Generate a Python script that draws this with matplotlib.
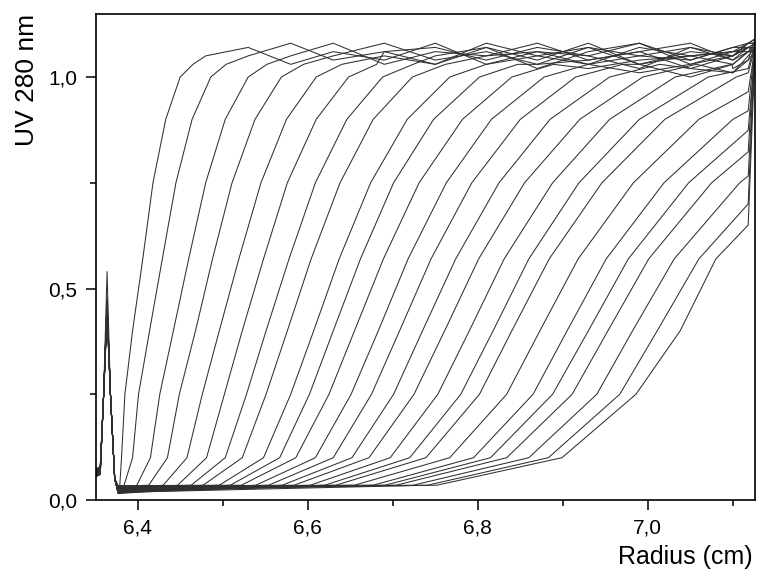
import numpy as np
import matplotlib
matplotlib.use('Agg')
import matplotlib.pyplot as plt

plt.rcParams['font.family'] = ['Liberation Sans', 'DejaVu Sans']

levels = [0.035, 0.10, 0.25, 0.40, 0.57, 0.75, 0.90, 1.00, 1.03]

# radius (cm) where each scan crosses the levels above
scans = [
    [6.379, 6.381, 6.385, 6.394, 6.406, 6.418, 6.433, 6.450, 6.465],
    [6.384, 6.394, 6.401, 6.414, 6.429, 6.445, 6.464, 6.486, 6.504],
    [6.399, 6.415, 6.426, 6.442, 6.460, 6.480, 6.503, 6.530, 6.552],
    [6.413, 6.435, 6.449, 6.468, 6.488, 6.511, 6.538, 6.569, 6.595],
    [6.430, 6.458, 6.476, 6.496, 6.519, 6.545, 6.575, 6.610, 6.640],
    [6.447, 6.481, 6.502, 6.523, 6.548, 6.576, 6.610, 6.648, 6.681],
    [6.463, 6.503, 6.528, 6.551, 6.578, 6.609, 6.646, 6.688, 6.724],
    [6.477, 6.523, 6.551, 6.576, 6.604, 6.638, 6.677, 6.723, 6.762],
    [6.496, 6.548, 6.580, 6.607, 6.637, 6.674, 6.717, 6.767, 6.810],
    [6.509, 6.567, 6.602, 6.630, 6.662, 6.701, 6.748, 6.802, 6.847],
    [6.522, 6.586, 6.625, 6.655, 6.689, 6.731, 6.782, 6.840, 6.889],
    [6.539, 6.609, 6.651, 6.683, 6.718, 6.763, 6.816, 6.878, 6.930],
    [6.554, 6.630, 6.675, 6.708, 6.745, 6.793, 6.850, 6.915, 6.970],
    [6.570, 6.652, 6.701, 6.735, 6.774, 6.825, 6.885, 6.955, 7.014],
    [6.584, 6.672, 6.725, 6.761, 6.801, 6.855, 6.920, 6.994, 7.057],
    [6.603, 6.697, 6.753, 6.790, 6.831, 6.888, 6.955, 7.032, 7.099],
    [6.620, 6.720, 6.780, 6.818, 6.860, 6.919, 6.990, 7.071],
    [6.633, 6.739, 6.802, 6.840, 6.884, 6.946, 7.020, 7.104],
    [6.655, 6.767, 6.834, 6.873, 6.918, 6.983, 7.060],
    [6.677, 6.795, 6.865, 6.905, 6.951, 7.019, 7.100],
    [6.691, 6.815, 6.888, 6.930, 6.977, 7.048],
    [6.704, 6.834, 6.911, 6.953, 7.001, 7.075],
    [6.724, 6.860, 6.940, 6.982, 7.031, 7.108],
    [6.741, 6.883, 6.967, 7.011, 7.060],
    [6.752, 6.899, 6.986, 7.038, 7.080],
]

# plateau readings (absorbance) of the finished scans on a common radius grid
plat_x = [6.48, 6.53, 6.58, 6.63, 6.69, 6.75, 6.81, 6.87, 6.93, 6.99, 7.05, 7.10, 7.118]
plat_y = [
    [1.05, 1.07, 1.03, 1.06, 1.04, 1.08, 1.03, 1.06, 1.05, 1.08, 1.04, 1.07, 1.07],
    [1.03, 1.05, 1.08, 1.04, 1.06, 1.03, 1.07, 1.04, 1.08, 1.03, 1.06, 1.05, 1.08],
    [1.06, 1.04, 1.05, 1.08, 1.03, 1.06, 1.05, 1.08, 1.04, 1.06, 1.08, 1.04, 1.06],
    [1.04, 1.03, 1.06, 1.05, 1.08, 1.04, 1.06, 1.03, 1.07, 1.05, 1.04, 1.07, 1.08],
    [1.05, 1.06, 1.02, 1.07, 1.05, 1.03, 1.08, 1.05, 1.03, 1.07, 1.05, 1.06, 1.07],
    [1.04, 1.05, 1.04, 1.03, 1.06, 1.07, 1.04, 1.07, 1.05, 1.02, 1.07, 1.05, 1.08],
    [1.05, 1.04, 1.06, 1.05, 1.03, 1.05, 1.07, 1.02, 1.06, 1.08, 1.03, 1.06, 1.06],
    [1.04, 1.05, 1.03, 1.04, 1.06, 1.02, 1.05, 1.06, 1.03, 1.05, 1.07, 1.04, 1.07],
    [1.05, 1.04, 1.05, 1.06, 1.04, 1.05, 1.03, 1.05, 1.07, 1.03, 1.05, 1.06, 1.08],
    [1.04, 1.04, 1.04, 1.03, 1.05, 1.04, 1.06, 1.03, 1.04, 1.06, 1.02, 1.05, 1.07],
    [1.03, 1.03, 1.03, 1.04, 1.03, 1.02, 1.04, 1.05, 1.02, 1.04, 1.05, 1.03, 1.06],
    [1.02, 1.02, 1.02, 1.02, 1.03, 1.04, 1.01, 1.03, 1.04, 1.01, 1.03, 1.05, 1.07],
    [1.01, 1.01, 1.01, 1.01, 1.01, 1.02, 1.03, 1.00, 1.02, 1.03, 1.00, 1.03, 1.06],
    [1.00, 1.00, 1.00, 1.00, 1.00, 1.00, 1.00, 1.01, 1.02, 1.00, 1.02, 1.01, 1.05],
    [1.00, 1.00, 1.00, 1.00, 1.00, 1.00, 1.00, 1.00, 1.00, 1.00, 1.00, 1.01, 1.04],
    [1.00, 1.00, 1.00, 1.00, 1.00, 1.00, 1.00, 1.00, 1.00, 1.00, 1.00, 1.02, 1.04],
]

# where the unfinished scans are when they reach the cell bottom
wall_foot = [1.02, 1.01, 0.965, 0.92, 0.874, 0.823, 0.766, 0.70, 0.65]
wall_top = [1.07, 1.08, 1.06, 1.09, 1.07, 1.08, 1.06, 1.07, 1.09, 1.08,
            1.07, 1.06, 1.08, 1.07, 1.09, 1.06, 1.08, 1.07, 1.07, 1.08,
            1.06, 1.09, 1.07, 1.08, 1.06]

# meniscus spike shared by all scans
men_x = [6.351, 6.356, 6.360, 6.364, 6.368, 6.373, 6.377]
men_y = [0.065, 0.070, 0.250, 0.460, 0.250, 0.050, 0.022]
men_left = [0.060, 0.068, 0.056, 0.072, 0.063, 0.058, 0.070, 0.066, 0.061, 0.074,
            0.057, 0.065, 0.069, 0.062, 0.059, 0.071, 0.064, 0.067, 0.055, 0.063,
            0.070, 0.060, 0.066, 0.058, 0.068]
peak_h = [0.54, 0.47, 0.46, 0.45, 0.48, 0.46, 0.44, 0.47, 0.46, 0.45,
          0.46, 0.47, 0.44, 0.46, 0.45, 0.47, 0.46, 0.45, 0.44, 0.46,
          0.47, 0.45, 0.46, 0.44, 0.46]
base_y = [0.020, 0.028, 0.016, 0.032, 0.024, 0.018, 0.030, 0.022, 0.026, 0.015,
          0.034, 0.021, 0.027, 0.019, 0.031, 0.023, 0.017, 0.029, 0.025, 0.020,
          0.033, 0.022, 0.028, 0.018, 0.026]

fig = plt.figure(figsize=(7.63, 5.80), dpi=100)
ax = fig.add_axes([96/763, 80/580, 659/763, 486/580])

n_full = len(plat_y)
for i, sc in enumerate(scans):
    xs = list(men_x)
    ys = list(men_y)
    ys[0] = men_left[i]
    ys[1] = men_left[i] + 0.005
    ys[3] = peak_h[i]
    ys[-1] = base_y[i]
    n = len(sc)
    xs += sc
    ys += levels[:n]
    if i < n_full:
        for px, py in zip(plat_x, plat_y[i]):
            if px > sc[-1]:
                xs.append(px)
                ys.append(py)
    else:
        xs.append(7.118)
        ys.append(wall_foot[i - n_full])
    xs.append(7.126)
    ys.append(wall_top[i])
    ax.plot(xs, ys, color='#303030', lw=0.75)

ax.set_xlim(6.351, 7.126)
ax.set_ylim(0, 1.149)

ax.set_xticks([6.4, 6.6, 6.8, 7.0])
ax.set_xticklabels(['6,4', '6,6', '6,8', '7,0'])
ax.set_xticks([6.5, 6.7, 6.9, 7.1], minor=True)
ax.set_yticks([0.0, 0.5, 1.0])
ax.set_yticklabels(['0,0', '0,5', '1,0'])
ax.set_yticks([0.25, 0.75], minor=True)

ax.tick_params(which='major', direction='out', length=7.5, width=1.1,
               labelsize=15, pad=6)
ax.tick_params(which='minor', direction='out', length=4.5, width=1.1)
for s in ax.spines.values():
    s.set_linewidth(1.2)

fig.text(27/763, 1 - 80/580, 'UV 280 nm', rotation=90, fontsize=19,
         ha='center', va='center')
fig.text(753/763, 1 - 557/580, 'Radius (cm)', fontsize=18,
         ha='right', va='center')

fig.savefig('out.png', dpi=100)
